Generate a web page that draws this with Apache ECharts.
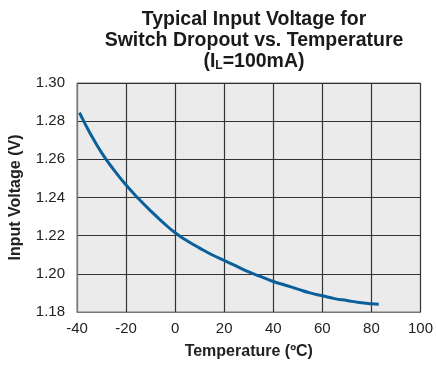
<!DOCTYPE html>
<html><head><meta charset="utf-8">
<script src="https://cdn.jsdelivr.net/npm/echarts@6/dist/echarts.min.js"></script>
<style>html,body{margin:0;padding:0;background:#fff}#c{width:436px;height:365px}</style>
</head><body><div id="c"></div>
<script>
const temps = [-39, -35, -30, -25, -20, -15, -10, -5, 0, 5, 10, 15, 20, 25, 30, 35, 40, 45, 50, 55, 60, 65, 70, 75, 80, 83];
const volts = [1.2845, 1.2745, 1.2635, 1.2545, 1.2465, 1.2395, 1.233, 1.227, 1.2215, 1.2172, 1.2135, 1.210, 1.207, 1.204, 1.201, 1.1985, 1.196, 1.194, 1.192, 1.190, 1.1885, 1.187, 1.186, 1.185, 1.1843, 1.1840];
const xTicks = [-40, -20, 0, 20, 40, 60, 80, 100];
const yTicks = [1.18, 1.20, 1.22, 1.24, 1.26, 1.28, 1.30];
const chart = echarts.init(document.getElementById('c'));
const ff = '"Liberation Sans", Arial, sans-serif';
chart.setOption({
  animation: false,
  title: {
    left: 249, top: 4, textAlign: 'center',
    text: '{a|Typical Input Voltage for}\n{a|Switch Dropout vs. Temperature}\n{a|(I}{s|L}{a|=100mA)}',
    textStyle: {
      rich: {
        a: {fontFamily: ff, fontWeight: 'bold', fontSize: 19.5, color: '#1a1a1a', lineHeight: 21},
        s: {fontFamily: ff, fontWeight: 'bold', fontSize: 12, color: '#1a1a1a', lineHeight: 21, verticalAlign: 'bottom', padding: [9,0,0,0]}
      }
    }
  },
  grid: {left: 76, right: 14, top: 83, bottom: 53, show: true, backgroundColor: '#ebebeb', borderColor: '#777', borderWidth: 1},
  xAxis: {
    type: 'value', min: xTicks[0], max: xTicks[xTicks.length-1], interval: 20,
    name: 'Temperature (ºC)', nameLocation: 'middle', nameGap: 32,
    nameTextStyle: {fontFamily: ff, fontWeight: 'bold', fontSize: 16, color: '#222'},
    axisLine: {show: true, onZero: false, lineStyle: {color: '#777'}}, axisTick: {show: false},
    axisLabel: {fontFamily: ff, fontSize: 15, color: '#222', margin: 9},
    splitLine: {show: true, lineStyle: {color: '#333', width: 1.2}}
  },
  yAxis: {
    type: 'value', min: yTicks[0], max: yTicks[yTicks.length-1], interval: 0.02,
    name: 'Input Voltage (V)', nameLocation: 'middle', nameGap: 53,
    nameTextStyle: {fontFamily: ff, fontWeight: 'bold', fontSize: 16, color: '#222'},
    axisLine: {show: true, onZero: false, lineStyle: {color: '#777'}}, axisTick: {show: false},
    axisLabel: {fontFamily: ff, fontSize: 15, color: '#222', margin: 12, formatter: v => v.toFixed(2)},
    splitLine: {show: true, lineStyle: {color: '#333', width: 1.2}}
  },
  series: [{
    type: 'line', smooth: true, symbol: 'none',
    data: temps.map((t, i) => [t, volts[i]]),
    lineStyle: {color: '#0b609c', width: 3}
  }]
});
</script></body></html>
